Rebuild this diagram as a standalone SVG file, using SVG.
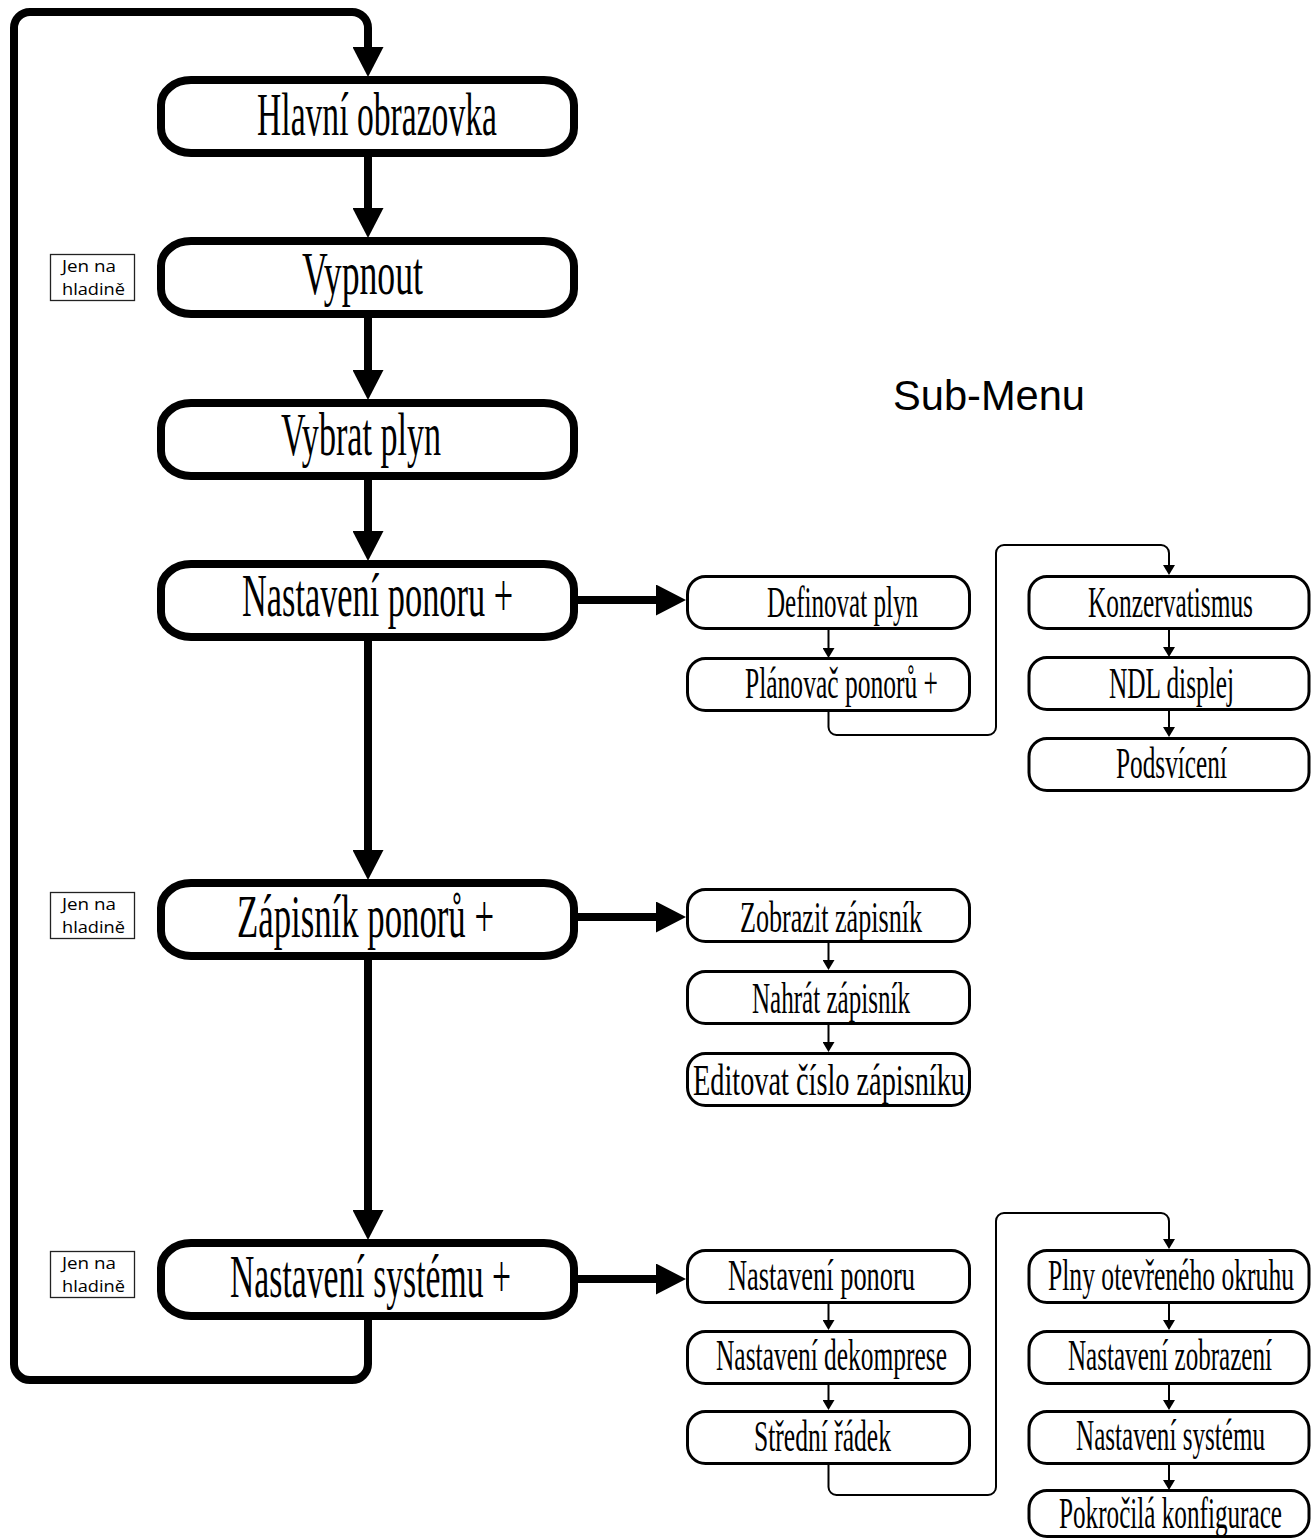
<svg xmlns="http://www.w3.org/2000/svg" width="1312" height="1539" viewBox="0 0 1312 1539">
<defs>
<style>
.main{fill:#fff;stroke:#000;stroke-width:8}
.sub{fill:#fff;stroke:#000;stroke-width:3}
.note{fill:#fff;stroke:#222;stroke-width:1.3}
.mt{font-family:"Liberation Serif","Times New Roman",serif;font-size:62px;fill:#000}
.st{font-family:"Liberation Serif","Times New Roman",serif;font-size:44px;fill:#000}
.nt{font-family:"Open Sans","Noto Sans","Liberation Sans",sans-serif;font-size:16.5px;fill:#000}
.hd{font-family:"Liberation Sans",Arial,sans-serif;font-size:42px;fill:#000}
.thick{fill:none;stroke:#000;stroke-width:8}
.thin{fill:none;stroke:#000;stroke-width:2}
</style>
<marker id="big" markerUnits="userSpaceOnUse" markerWidth="30" markerHeight="31" viewBox="0 0 30 31" refX="0" refY="15.5" orient="auto">
<path d="M0,0 L30,15.5 L0,31 Z" fill="#000"/>
</marker>
<marker id="small" markerUnits="userSpaceOnUse" markerWidth="10" markerHeight="12" viewBox="0 0 10 12" refX="0" refY="6" orient="auto">
<path d="M0,0 L10,6 L0,12 Z" fill="#000"/>
</marker>
</defs>
<rect width="1312" height="1539" fill="#fff"/>

<g id="connectors">
<path class="thick" d="M368,1320 V1364 A16,16 0 0 1 352,1380 H30 A16,16 0 0 1 14,1364 V28 A16,16 0 0 1 30,12 H352 A16,16 0 0 1 368,28 V47" marker-end="url(#big)"/>
<path class="thick" d="M368,157 V208" marker-end="url(#big)"/>
<path class="thick" d="M368,318 V370" marker-end="url(#big)"/>
<path class="thick" d="M368,480 V531" marker-end="url(#big)"/>
<path class="thick" d="M368,641 V850" marker-end="url(#big)"/>
<path class="thick" d="M368,960 V1210" marker-end="url(#big)"/>
<path class="thick" d="M578,600 H656" marker-end="url(#big)"/>
<path class="thick" d="M578,917 H656" marker-end="url(#big)"/>
<path class="thick" d="M578,1279 H656" marker-end="url(#big)"/>

<path class="thin" d="M828.5,630 V648" marker-end="url(#small)"/>
<path class="thin" d="M828.5,712 V727 A8,8 0 0 0 836.5,735 H988 A8,8 0 0 0 996,727 V553 A8,8 0 0 1 1004,545 H1161 A8,8 0 0 1 1169,553 V565" marker-end="url(#small)"/>
<path class="thin" d="M1169,630 V647" marker-end="url(#small)"/>
<path class="thin" d="M1169,711 V727" marker-end="url(#small)"/>

<path class="thin" d="M828.5,943 V960" marker-end="url(#small)"/>
<path class="thin" d="M828.5,1025 V1042" marker-end="url(#small)"/>

<path class="thin" d="M828.5,1304 V1320" marker-end="url(#small)"/>
<path class="thin" d="M828.5,1385 V1400" marker-end="url(#small)"/>
<path class="thin" d="M828.5,1465 V1487 A8,8 0 0 0 836.5,1495 H988 A8,8 0 0 0 996,1487 V1221 A8,8 0 0 1 1004,1213 H1161 A8,8 0 0 1 1169,1221 V1239" marker-end="url(#small)"/>
<path class="thin" d="M1169,1304 V1320" marker-end="url(#small)"/>
<path class="thin" d="M1169,1385 V1400" marker-end="url(#small)"/>
<path class="thin" d="M1169,1465 V1480" marker-end="url(#small)"/>
</g>

<g id="n-hlavni"><rect class="main" x="161" y="80" width="413" height="73" rx="30" ry="25"/><text class="mt" x="257" y="135" textLength="240" lengthAdjust="spacingAndGlyphs">Hlavní obrazovka</text></g>
<g id="n-vypnout"><rect class="main" x="161" y="241" width="413" height="73" rx="30" ry="25"/><text class="mt" x="302" y="294" textLength="121" lengthAdjust="spacingAndGlyphs">Vypnout</text></g>
<g id="n-vybrat"><rect class="main" x="161" y="403" width="413" height="73" rx="30" ry="25"/><text class="mt" x="281" y="455" textLength="160" lengthAdjust="spacingAndGlyphs">Vybrat plyn</text></g>
<g id="n-ponor"><rect class="main" x="161" y="564" width="413" height="73" rx="30" ry="25"/><text class="mt" x="242" y="616" textLength="271" lengthAdjust="spacingAndGlyphs">Nastavení ponoru +</text></g>
<g id="n-zapisnik"><rect class="main" x="161" y="883" width="413" height="73" rx="30" ry="25"/><text class="mt" x="237" y="937" textLength="257" lengthAdjust="spacingAndGlyphs">Zápisník ponorů +</text></g>
<g id="n-system"><rect class="main" x="161" y="1243" width="413" height="73" rx="30" ry="25"/><text class="mt" x="230" y="1297" textLength="281" lengthAdjust="spacingAndGlyphs">Nastavení systému +</text></g>

<g id="note-1"><rect class="note" x="50.5" y="254.5" width="84" height="46"/><text class="nt" x="62" y="272" textLength="54" lengthAdjust="spacingAndGlyphs">Jen na</text><text class="nt" x="62" y="295" textLength="63" lengthAdjust="spacingAndGlyphs">hladině</text></g>
<g id="note-2"><rect class="note" x="50.5" y="892.5" width="84" height="46"/><text class="nt" x="62" y="910" textLength="54" lengthAdjust="spacingAndGlyphs">Jen na</text><text class="nt" x="62" y="933" textLength="63" lengthAdjust="spacingAndGlyphs">hladině</text></g>
<g id="note-3"><rect class="note" x="50.5" y="1251.5" width="84" height="46"/><text class="nt" x="62" y="1269" textLength="54" lengthAdjust="spacingAndGlyphs">Jen na</text><text class="nt" x="62" y="1292" textLength="63" lengthAdjust="spacingAndGlyphs">hladině</text></g>

<g id="heading"><text class="hd" x="893" y="410" textLength="192" lengthAdjust="spacingAndGlyphs">Sub-Menu</text></g>

<g id="s-definovat"><rect class="sub" x="687.5" y="576.5" width="282" height="52" rx="18"/><text class="st" x="767" y="617" textLength="151" lengthAdjust="spacingAndGlyphs">Definovat plyn</text></g>
<g id="s-planovac"><rect class="sub" x="687.5" y="658.5" width="282" height="52" rx="18"/><text class="st" x="745" y="698" textLength="193" lengthAdjust="spacingAndGlyphs">Plánovač ponorů +</text></g>
<g id="s-konzervatismus"><rect class="sub" x="1029" y="576.5" width="280" height="52" rx="18"/><text class="st" x="1088" y="617" textLength="165" lengthAdjust="spacingAndGlyphs">Konzervatismus</text></g>
<g id="s-ndl"><rect class="sub" x="1029" y="657.5" width="280" height="52" rx="18"/><text class="st" x="1109" y="698" textLength="125" lengthAdjust="spacingAndGlyphs">NDL displej</text></g>
<g id="s-podsviceni"><rect class="sub" x="1029" y="738.5" width="280" height="52" rx="18"/><text class="st" x="1116" y="778" textLength="111" lengthAdjust="spacingAndGlyphs">Podsvícení</text></g>

<g id="s-zobrazit"><rect class="sub" x="687.5" y="889.5" width="282" height="52" rx="18"/><text class="st" x="740" y="932" textLength="182" lengthAdjust="spacingAndGlyphs">Zobrazit zápisník</text></g>
<g id="s-nahrat"><rect class="sub" x="687.5" y="971.5" width="282" height="52" rx="18"/><text class="st" x="752" y="1013" textLength="158" lengthAdjust="spacingAndGlyphs">Nahrát zápisník</text></g>
<g id="s-editovat"><rect class="sub" x="687.5" y="1053.5" width="282" height="52" rx="18"/><text class="st" x="693" y="1095" textLength="272" lengthAdjust="spacingAndGlyphs">Editovat číslo zápisníku</text></g>

<g id="s-nast-ponoru"><rect class="sub" x="687.5" y="1250.5" width="282" height="52" rx="18"/><text class="st" x="728" y="1290" textLength="187" lengthAdjust="spacingAndGlyphs">Nastavení ponoru</text></g>
<g id="s-nast-dekomprese"><rect class="sub" x="687.5" y="1331.5" width="282" height="52" rx="18"/><text class="st" x="716" y="1370" textLength="231" lengthAdjust="spacingAndGlyphs">Nastavení dekomprese</text></g>
<g id="s-stredni"><rect class="sub" x="687.5" y="1411.5" width="282" height="52" rx="18"/><text class="st" x="754" y="1451" textLength="137" lengthAdjust="spacingAndGlyphs">Střední řádek</text></g>
<g id="s-plny"><rect class="sub" x="1029" y="1250.5" width="280" height="52" rx="18"/><text class="st" x="1048" y="1290" textLength="246" lengthAdjust="spacingAndGlyphs">Plny otevřeného okruhu</text></g>
<g id="s-nast-zobrazeni"><rect class="sub" x="1029" y="1331.5" width="280" height="52" rx="18"/><text class="st" x="1068" y="1370" textLength="204" lengthAdjust="spacingAndGlyphs">Nastavení zobrazení</text></g>
<g id="s-nast-systemu"><rect class="sub" x="1029" y="1411.5" width="280" height="52" rx="18"/><text class="st" x="1076" y="1450" textLength="189" lengthAdjust="spacingAndGlyphs">Nastavení systému</text></g>
<g id="s-pokrocila"><rect class="sub" x="1029" y="1490.5" width="280" height="46" rx="18"/><text class="st" x="1059" y="1528" textLength="223" lengthAdjust="spacingAndGlyphs">Pokročilá konfigurace</text></g>
</svg>
